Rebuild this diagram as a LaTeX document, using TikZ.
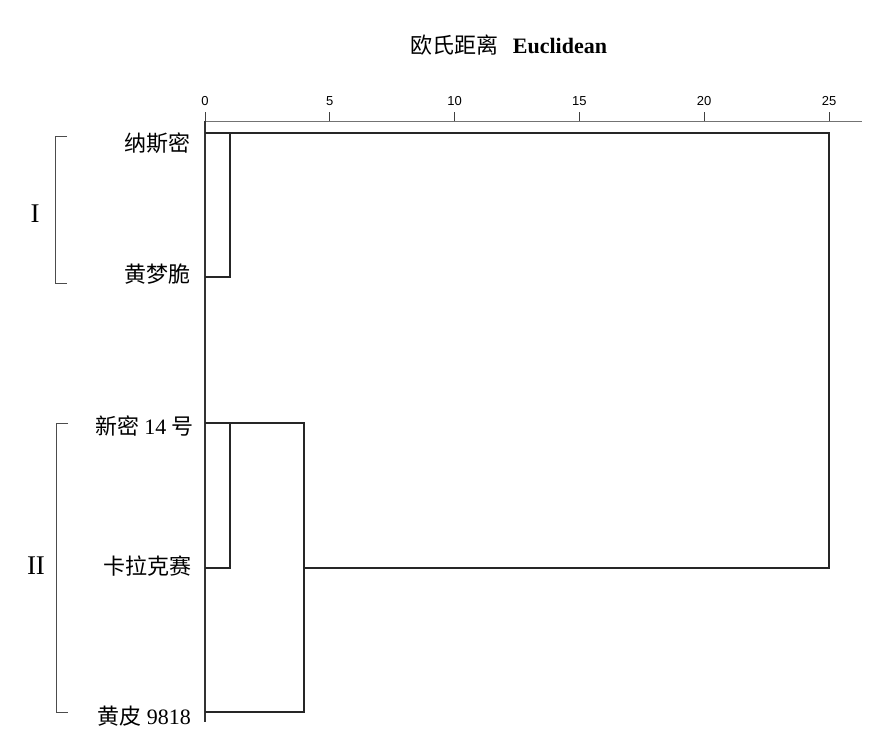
\documentclass[tikz,border=0pt]{standalone}
\usepackage{fontspec}
\setmainfont{Liberation Serif}
\newfontfamily\cjk{Noto Sans CJK SC}
\newfontfamily\arial{Liberation Sans}

\begin{document}
\begin{tikzpicture}[x=1pt, y=-1pt,
		branch/.style={line width=1.4pt, black!85},
		bracket/.style={line width=0.9pt, black!70},
		leaflab/.style={anchor=east, inner sep=0pt, font=\fontsize{22}{22}\selectfont},
		ticklab/.style={inner sep=0pt, font=\arial\fontsize{13}{13}\selectfont},
		grouplab/.style={inner sep=0pt, font=\fontsize{27}{27}\selectfont}]
	\useasboundingbox (0,0) rectangle (886,742);
			\begin{scope}
				\node[inner sep=0pt, font=\fontsize{22}{22}\selectfont] (title) at (509,45) {{\cjk 欧氏距离}\hspace{14pt}{\rmfamily\bfseries Euclidean}};

				\coordinate (a0) at (205,121);
				\coordinate (a1) at (862,121);
				\coordinate (bot) at (205,722);
				\draw[line width=1pt, black!55] (a0) -- (a1); % asse
				\draw[line width=1.2pt, black!80] (a0) -- (bot); % base
				\foreach \v in {0,5,...,25} {
					\coordinate (t\v) at (205+24.96*\v,121);
					\coordinate (u\v) at (205+24.96*\v,112);
					\draw[line width=0.9pt, black!75] (t\v) -- (u\v);
					\node[ticklab] (l\v) at (205+24.96*\v,101) {\v};
				}

				\node[leaflab] (n1) at (191,143) {\cjk 纳斯密};
				\node[leaflab] (n2) at (191,274) {\cjk 黄梦脆};
				\node[leaflab] (n3) at (194,426) {\cjk 新密 \rmfamily 14 \cjk 号};
				\node[leaflab] (n4) at (192,566) {\cjk 卡拉克赛};
				\node[leaflab] (n5) at (191,716) {\cjk 黄皮 \rmfamily 9818};

				\coordinate (p1) at (205,133);
				\coordinate (p2) at (205,277);
				\coordinate (p3) at (205,423);
				\coordinate (p4) at (205,568);
				\coordinate (p5) at (205,712);
				\coordinate (c1a) at (230,133);
				\coordinate (c1b) at (230,277);
				\coordinate (c2a) at (230,423);
				\coordinate (c2b) at (230,568);
				\coordinate (c3a) at (304,423);
				\coordinate (c3b) at (304,712);
				\coordinate (c3m) at (304,568);
				\coordinate (c4a) at (829,133);
				\coordinate (c4b) at (829,568);

				\draw[branch] (p2) -- (c1b) -- (c1a); % da 2 a 1
				\draw[branch] (p1) -- (c4a) -- (c4b) -- (c3m); % radice
				\draw[branch] (p4) -- (c2b) -- (c2a); % da 4 a 3
				\draw[branch] (p3) -- (c3a) -- (c3b) -- (p5); % da 3 a 5

				\coordinate (b1a) at (67,136);
				\coordinate (b1b) at (55,136);
				\coordinate (b1c) at (55,283);
				\coordinate (b1d) at (67,283);
				\draw[bracket] (b1a) -- (b1b) -- (b1c) -- (b1d);
				\node[grouplab] (g1) at (35,214) {I};

				\coordinate (b2a) at (68,423);
				\coordinate (b2b) at (56,423);
				\coordinate (b2c) at (56,712);
				\coordinate (b2d) at (68,712);
				\draw[bracket] (b2a) -- (b2b) -- (b2c) -- (b2d);
				\node[grouplab] (g2) at (36,566) {II};
			\end{scope}
		\end{tikzpicture}
\end{document}
